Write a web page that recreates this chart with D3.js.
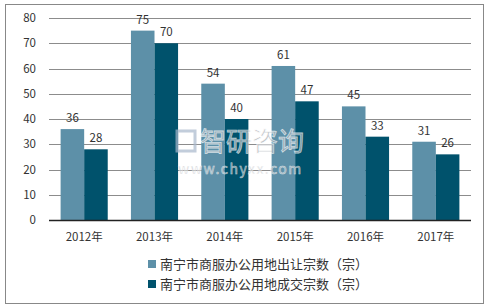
<!DOCTYPE html>
<html>
<head>
<meta charset="utf-8">
<script src="https://cdn.jsdelivr.net/npm/d3@7"></script>
<style>
  body { margin: 0; background: #fff; }
  text { font-family: "Noto Sans CJK SC", "Noto Sans", sans-serif; }
</style>
</head>
<body>
<div id="chart"></div>
<script>
var years = ["2012年", "2013年", "2014年", "2015年", "2016年", "2017年"];
var transferred = [36, 75, 54, 61, 45, 31];
var traded = [28, 70, 40, 47, 33, 26];
var seriesNames = ["南宁市商服办公用地出让宗数（宗）", "南宁市商服办公用地成交宗数（宗）"];
var yTicks = [0, 10, 20, 30, 40, 50, 60, 70, 80];
var colors = ["#5d90a8", "#00526c"];

var W = 490, H = 308;
var margin = {top: 18, right: 19, bottom: 88, left: 49},
    width = W - margin.left - margin.right,
    height = H - margin.top - margin.bottom;

var svg = d3.select("#chart").append("svg")
    .attr("width", W)
    .attr("height", H);

// outer frame
svg.append("rect")
    .attr("x", 5.5).attr("y", 4.5)
    .attr("width", 478).attr("height", 299)
    .style("fill", "none")
    .style("stroke", "#888")
    .style("stroke-width", 1);

var g = svg.append("g")
    .attr("transform", "translate(" + margin.left + "," + margin.top + ")");

var x = d3.scaleBand().domain(years).range([0, width]).paddingInner(0.33).paddingOuter(0.165);
var xSub = d3.scaleBand().domain([0, 1]).range([0, x.bandwidth()]);
var y = d3.scaleLinear().domain([0, 80]).range([height, 0]);

// grid
g.append("g")
    .selectAll("line")
    .data(yTicks.filter(d => d > 0))
    .enter().append("line")
    .attr("x1", 0).attr("x2", width)
    .attr("y1", d => Math.round(y(d)) + 0.5)
    .attr("y2", d => Math.round(y(d)) + 0.5)
    .style("stroke", "#8c8c8c")
    .style("stroke-width", 1);

// y labels
g.append("g")
    .selectAll("text")
    .data(yTicks)
    .enter().append("text")
    .attr("x", -13)
    .attr("y", d => y(d))
    .attr("dy", "0.35em")
    .attr("text-anchor", "end")
    .style("font-size", "11.5px")
    .style("fill", "#333")
    .text(d => d);

var series = [transferred, traded];
series.forEach(function(vals, s) {
    g.selectAll(".bar" + s)
        .data(vals)
        .enter().append("rect")
        .attr("class", "bar" + s)
        .attr("x", (d, i) => x(years[i]) + xSub(s))
        .attr("width", xSub.bandwidth())
        .attr("y", d => y(d))
        .attr("height", d => height - y(d))
        .style("fill", colors[s]);

    g.selectAll(".lab" + s)
        .data(vals)
        .enter().append("text")
        .attr("class", "lab" + s)
        .attr("x", (d, i) => x(years[i]) + xSub(s) + xSub.bandwidth() / 2)
        .attr("y", d => y(d) - 7)
        .attr("text-anchor", "middle")
        .style("font-size", "11.5px")
        .style("fill", "#333")
        .text(d => d);
});

// x axis baseline
g.append("line")
    .attr("x1", 0).attr("x2", width)
    .attr("y1", height + 0.5).attr("y2", height + 0.5)
    .style("stroke", "#222")
    .style("stroke-width", 1.3);

g.append("g")
    .selectAll("text")
    .data(years)
    .enter().append("text")
    .attr("x", d => x(d) + x.bandwidth() / 2)
    .attr("y", height + 17)
    .attr("dy", "0.35em")
    .attr("text-anchor", "middle")
    .style("font-size", "11.5px")
    .style("fill", "#333")
    .text(d => d);

// watermark, drawn over the bars
var wm = svg.append("g").style("opacity", 0.7);
wm.append("rect")
    .attr("x", 177).attr("y", 131).attr("width", 18).attr("height", 20)
    .style("fill", "none").style("stroke", "#a9b8cc").style("stroke-width", 3);
wm.append("text")
    .attr("x", 200).attr("y", 151)
    .style("font-size", "26px")
    .style("fill", "#a8adb3")
    .style("stroke", "#fff").style("stroke-width", 0.8)
    .text("智研咨询");
wm.append("text")
    .attr("x", 178).attr("y", 174)
    .style("font-size", "14px")
    .style("letter-spacing", "1.5px")
    .style("fill", "#a8adb3")
    .style("stroke", "#fff").style("stroke-width", 0.5)
    .text("www.chyxx.com");

// legend
var legend = svg.append("g")
    .attr("transform", "translate(148,264)");
seriesNames.forEach(function(name, i) {
    legend.append("rect")
        .attr("x", 0).attr("y", i * 20 - 4)
        .attr("width", 8).attr("height", 8)
        .style("fill", colors[i]);
    legend.append("text")
        .attr("x", 12).attr("y", i * 20)
        .attr("dy", "0.35em")
        .style("font-size", "13px")
        .style("fill", "#333")
        .text(name);
});
</script>
</body>
</html>
